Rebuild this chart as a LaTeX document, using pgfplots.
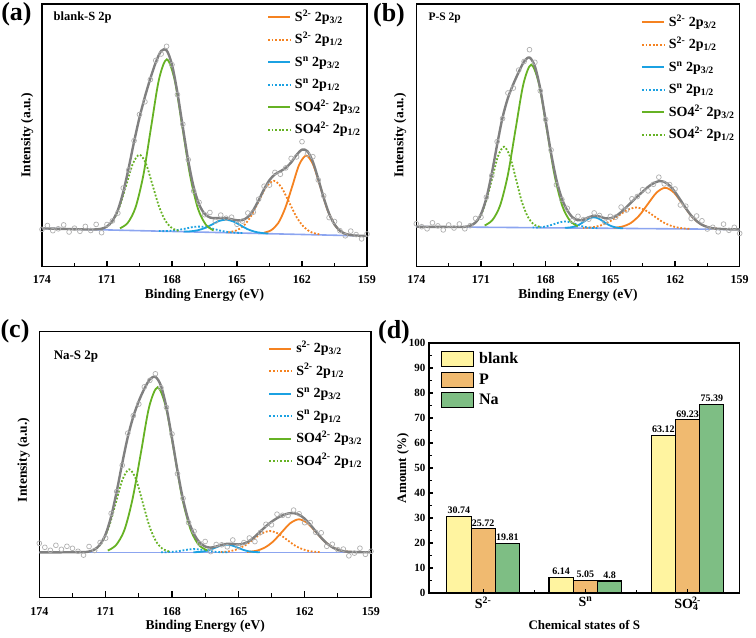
\documentclass[border=0pt]{standalone}
\usepackage{fontspec}
\setmainfont{Liberation Serif}
\usepackage{pgfplots}
\pgfplotsset{compat=1.18}

\definecolor{cOr}{RGB}{245,130,32}
\definecolor{cBl}{RGB}{27,161,226}
\definecolor{cGr}{RGB}{102,178,36}
\definecolor{cEnv}{RGB}{128,128,128}
\definecolor{cDat}{RGB}{175,175,175}
\definecolor{cBg}{RGB}{140,165,240}
\definecolor{cYel}{RGB}{255,244,160}
\definecolor{cTan}{RGB}{240,186,112}
\definecolor{cNa}{RGB}{126,190,132}

\pgfplotsset{
  comp/.style={line width=1.8pt, smooth},
  dots/.style={line width=1.8pt, smooth, dash pattern=on 1.8pt off 1.8pt},
  env/.style={cEnv, line width=2.4pt, smooth, forget plot},
  base/.style={cBg, line width=1.6pt, forget plot},
  data/.style={only marks, mark=o, mark size=2.4pt, cDat, mark options={line width=0.7pt}, forget plot},
  xps/.style={
    scale only axis,
    x dir=reverse,
    xmin=159, xmax=174, ymin=0,
    xtick={159,162,165,168,171,174},
    minor xtick={160.5,163.5,166.5,169.5,172.5},
    ytick=\empty,
    xtick pos=bottom,
    tick align=inside,
    major tick length=6pt,
    minor tick length=4pt,
    every tick/.style={black,line width=1.2pt},
    axis line style={line width=1.4pt},
    /pgf/number format/assume math mode=true,
    tick label style={font=\bfseries\fontsize{12}{12}\selectfont},
    xticklabel style={yshift=-5pt},
    xlabel={Binding Energy (eV)},
    ylabel={Intensity (a.u.)},
    label style={font=\bfseries\fontsize{13.5}{13.5}\selectfont},
    legend cell align=left,
    legend image code/.code={\draw[#1, line width=2pt] (0pt,0pt) -- (22pt,0pt); \path (25pt,0pt);},
    legend style={draw=none, fill=none, anchor=north west, inner sep=0pt,
      font=\bfseries\fontsize{14}{14}\selectfont, row sep=8pt,
      nodes={inner sep=1pt, text height=10pt, text depth=2.5pt}},
  },
}

\begin{document}
\begin{tikzpicture}[x=1pt,y=1pt]
\useasboundingbox (0,0) rectangle (756,638);

% ---------------- (a) blank-S 2p
\begin{axis}[xps, at={(42pt,371.3pt)}, anchor=south west, width=325pt, height=262.7pt, ymax=262.7,
  xlabel style={at={(axis description cs:0.5,-0.11)}, anchor=center},
  ylabel style={at={(axis description cs:-0.046,0.5)}, anchor=center},
  legend style={at={(axis description cs:0.692,0.977)}}]
\addplot[data] coordinates {(159,32.7) (159.25,27.8) (159.5,32.1) (159.75,35.6) (160,30.9) (160.25,36.0) (160.5,45.2) (160.75,49.1) (161,71.0) (161.25,86.7) (161.5,110.0) (161.75,112.5) (162,125.0) (162.25,109.8) (162.5,108.3) (162.75,98.8) (163,92.4) (163.25,94.3) (163.5,81.6) (163.75,80.5) (164,67.5) (164.25,54.5) (164.5,53.7) (164.75,45.6) (165,42.4) (165.25,49.5) (165.5,48.5) (165.75,51.6) (166,45.5) (166.25,54.2) (166.5,52.0) (166.75,64.4) (167,75.6) (167.25,107.0) (167.5,142.5) (167.75,172.1) (168,202.0) (168.25,220.4) (168.5,212.7) (168.75,206.2) (169,187.1) (169.25,164.9) (169.5,152.2) (169.75,126.0) (170,96.7) (170.25,78.7) (170.5,53.6) (170.75,45.8) (171,42.2) (171.25,34.0) (171.5,42.3) (171.75,36.2) (172,40.3) (172.25,35.4) (172.5,38.5) (172.75,34.7) (173,41.8) (173.25,37.9) (173.5,36.0) (173.75,41.2) (174,37.3)};
\addplot[base] coordinates {(159,30.7) (174,38.3)};
\addplot[cOr, comp] coordinates {(159.85,32.0) (160.18,34.8) (160.5,42.2) (160.83,57.3) (161.15,79.8) (161.48,101.7) (161.8,111.1) (162.13,102.0) (162.45,80.4) (162.78,58.3) (163.1,43.5) (163.43,36.4) (163.75,34.0)};
\addlegendentry{S\textsuperscript{2-} 2p\textsubscript{3/2}}
\addplot[cOr, dots] coordinates {(161.2,32.4) (161.55,34.3) (161.9,39.4) (162.25,49.6) (162.6,64.7) (162.95,79.4) (163.3,85.9) (163.65,79.8) (164.0,65.4) (164.35,50.6) (164.7,40.8) (165.05,36.1) (165.4,34.5)};
\addlegendentry{S\textsuperscript{2-} 2p\textsubscript{1/2}}
\addplot[cBl, comp] coordinates {(163.55,33.1) (163.88,33.8) (164.2,35.1) (164.53,37.7) (164.85,41.6) (165.18,45.3) (165.5,47.0) (165.83,45.7) (166.15,42.2) (166.48,38.7) (166.8,36.5) (167.13,35.4) (167.45,35.1)};
\addlegendentry{S\textsuperscript{n} 2p\textsubscript{3/2}}
\addplot[cBl, dots] coordinates {(164.75,33.7) (165.08,34.0) (165.4,34.6) (165.73,35.9) (166.05,37.6) (166.38,39.3) (166.7,40.1) (167.03,39.7) (167.35,38.2) (167.68,36.9) (168.0,36.0) (168.33,35.6) (168.65,35.7)};
\addlegendentry{S\textsuperscript{n} 2p\textsubscript{1/2}}
\addplot[cGr, comp] coordinates {(166.08,36.2) (166.44,42.1) (166.8,58.0) (167.16,90.6) (167.52,139.4) (167.88,187.0) (168.24,207.4) (168.6,187.4) (168.96,140.2) (169.32,91.7) (169.68,59.4) (170.04,43.9) (170.4,38.4)};
\addlegendentry{SO4\textsuperscript{2-} 2p\textsubscript{3/2}}
\addplot[cGr, dots] coordinates {(167.7,35.9) (168.0,38.6) (168.3,45.7) (168.6,60.3) (168.9,81.8) (169.2,103.0) (169.5,112.0) (169.8,103.3) (170.1,82.4) (170.4,61.2) (170.7,46.9) (171.0,40.1) (171.3,37.7)};
\addlegendentry{SO4\textsuperscript{2-} 2p\textsubscript{1/2}}
\addplot[env] coordinates {(159,30.7) (159.25,30.8) (159.5,31.1) (159.75,31.6) (160,32.9) (160.25,36.0) (160.5,42.2) (160.75,53.1) (161,69.0) (161.25,87.7) (161.5,105.0) (161.75,115.5) (162,117.0) (162.25,111.8) (162.5,104.3) (162.75,98.8) (163,95.4) (163.25,92.3) (163.5,86.6) (163.75,77.5) (164,66.5) (164.25,56.5) (164.5,49.7) (164.75,46.6) (165,46.4) (165.25,47.5) (165.5,48.5) (165.75,48.6) (166,48.5) (166.25,49.2) (166.5,53.0) (166.75,62.4) (167,79.6) (167.25,106.0) (167.5,139.5) (167.75,174.1) (168,202.0) (168.25,216.4) (168.5,215.7) (168.75,204.2) (169,188.1) (169.25,169.9) (169.5,149.2) (169.75,125.0) (170,98.7) (170.25,74.7) (170.5,56.6) (170.75,45.8) (171,40.2) (171.25,38.0) (171.5,37.3) (171.75,37.2) (172,37.3) (173,37.8) (174,38.3)};
\node[anchor=west, font=\bfseries\fontsize{12.5}{12.5}\selectfont] at (rel axis cs:0.025,0.947) {blank-S 2p};
\end{axis}

% ---------------- (b) P-S 2p
\begin{axis}[xps, at={(416.3pt,371.3pt)}, anchor=south west, width=323.4pt, height=262.7pt, ymax=262.7,
  xlabel style={at={(axis description cs:0.5,-0.11)}, anchor=center},
  ylabel style={at={(axis description cs:-0.05,0.5)}, anchor=center},
  legend style={at={(axis description cs:0.694,0.958)}}]
\addplot[data] coordinates {(159,33.3) (159.25,39.4) (159.5,36.4) (159.75,42.6) (160,34.9) (160.25,39.4) (160.5,37.7) (160.75,45.9) (161,50.7) (161.25,48.2) (161.5,60.5) (161.75,61.7) (162,77.7) (162.25,82.1) (162.5,82.8) (162.75,89.5) (163,82.4) (163.25,75.8) (163.5,77.0) (163.75,70.2) (164,67.9) (164.25,56.7) (164.5,59.6) (164.75,49.6) (165,50.4) (165.25,44.5) (165.5,51.2) (165.75,53.8) (166,47.5) (166.25,47.0) (166.5,50.4) (166.75,46.3) (167,58.4) (167.25,67.2) (167.5,81.9) (167.75,116.7) (168,147.2) (168.25,175.9) (168.5,204.4) (168.75,217.0) (169,205.2) (169.25,196.6) (169.5,178.6) (169.75,173.7) (170,148.1) (170.25,125.1) (170.5,91.1) (170.75,69.5) (171,49.5) (171.25,48.3) (171.5,41.0) (171.75,37.9) (172,42.7) (172.25,38.7) (172.5,41.7) (172.75,36.8) (173,40.8) (173.25,43.9) (173.5,37.9) (173.75,40.0) (174,43.0)};
\addplot[base] coordinates {(159,37.3) (174,40.0)};
\addplot[cOr, comp] coordinates {(160.05,38.0) (160.45,39.4) (160.85,43.1) (161.25,51.0) (161.65,62.7) (162.05,74.1) (162.45,78.9) (162.85,74.2) (163.25,63.0) (163.65,51.4) (164.05,43.7) (164.45,40.1) (164.85,38.9)};
\addlegendentry{S\textsuperscript{2-} 2p\textsubscript{3/2}}
\addplot[cOr, dots] coordinates {(161.34,37.9) (161.75,38.7) (162.16,40.7) (162.57,44.7) (162.98,50.7) (163.39,56.6) (163.8,59.2) (164.21,56.7) (164.62,51.0) (165.03,45.2) (165.44,41.3) (165.85,39.4) (166.26,38.8)};
\addlegendentry{S\textsuperscript{2-} 2p\textsubscript{1/2}}
\addplot[cBl, comp] coordinates {(164.41,38.4) (164.64,38.8) (164.86,39.9) (165.09,41.9) (165.31,45.0) (165.54,48.1) (165.76,49.4) (165.99,48.2) (166.21,45.2) (166.44,42.1) (166.66,40.2) (166.89,39.2) (167.11,38.9)};
\addlegendentry{S\textsuperscript{n} 2p\textsubscript{3/2}}
\addplot[cBl, dots] coordinates {(165.6,38.6) (165.85,38.8) (166.1,39.5) (166.35,40.7) (166.6,42.6) (166.85,44.3) (167.1,45.2) (167.35,44.4) (167.6,42.7) (167.85,41.0) (168.1,39.8) (168.35,39.3) (168.6,39.1)};
\addlegendentry{S\textsuperscript{n} 2p\textsubscript{1/2}}
\addplot[cGr, comp] coordinates {(166.51,40.5) (166.87,45.9) (167.23,60.9) (167.59,91.8) (167.95,137.8) (168.31,182.8) (168.67,202.0) (169.03,182.9) (169.39,138.1) (169.75,92.1) (170.11,61.4) (170.47,46.6) (170.83,41.2)};
\addlegendentry{SO4\textsuperscript{2-} 2p\textsubscript{3/2}}
\addplot[cGr, dots] coordinates {(168.28,39.9) (168.56,42.5) (168.83,50.0) (169.11,65.3) (169.38,88.1) (169.66,110.4) (169.93,120.0) (170.21,110.5) (170.48,88.3) (170.76,65.6) (171.03,50.4) (171.31,43.0) (171.58,40.5)};
\addlegendentry{SO4\textsuperscript{2-} 2p\textsubscript{1/2}}
\addplot[env] coordinates {(159,37.3) (159.5,37.4) (160,37.9) (160.25,38.4) (160.5,39.7) (160.75,41.9) (161,45.7) (161.25,51.2) (161.5,58.5) (161.75,66.7) (162,74.7) (162.25,81.1) (162.5,84.8) (162.75,85.5) (163,83.4) (163.25,79.8) (163.5,75.0) (163.75,70.2) (164,64.9) (164.25,59.7) (164.5,54.6) (164.75,50.6) (165,48.4) (165.25,48.5) (165.5,50.2) (165.75,50.8) (166,49.5) (166.25,47.0) (166.5,46.4) (166.75,49.3) (167,56.4) (167.25,68.2) (167.5,86.9) (167.75,113.7) (168,146.2) (168.25,177.9) (168.5,200.4) (168.75,209.2) (169,205.2) (169.25,194.6) (169.5,182.6) (169.75,168.7) (170,149.1) (170.25,122.1) (170.5,93.1) (170.75,68.5) (171,52.5) (171.25,44.3) (171.5,41.0) (171.75,39.9) (172,39.7) (173,39.8) (174,40.0)};
\node[anchor=west, font=\bfseries\fontsize{11.5}{11.5}\selectfont] at (rel axis cs:0.027,0.947) {P-S 2p};
\end{axis}

% ---------------- (c) Na-S 2p
\begin{axis}[xps, at={(39.3pt,40.7pt)}, anchor=south west, width=331.7pt, height=265.7pt, ymax=265.7,
  xlabel style={at={(axis description cs:0.5,-0.11)}, anchor=center},
  ylabel style={at={(axis description cs:-0.047,0.517)}, anchor=center},
  xticklabel style={yshift=-1.5pt},
  legend style={at={(axis description cs:0.69,0.963)}}]
\addplot[data] coordinates {(159,46) (159.25,43) (159.5,49.1) (159.75,44.2) (160,41.5) (160.25,48.2) (160.5,47.6) (160.75,53.1) (161,51.0) (161.25,64.5) (161.5,65.0) (161.75,74.7) (162,74.6) (162.25,83.5) (162.5,87.2) (162.75,81.8) (163,82.0) (163.25,83.1) (163.5,72.5) (163.75,73.0) (164,64.9) (164.25,55.7) (164.5,59.3) (164.75,54.7) (165,50.9) (165.25,57.3) (165.5,50.5) (165.75,52.5) (166,52.8) (166.25,45.7) (166.5,55.8) (166.75,53.9) (167,66.0) (167.25,74.7) (167.5,98.9) (167.75,123.5) (168,163.3) (168.25,189.9) (168.5,209.6) (168.75,223.5) (169,217.0) (169.25,210.5) (169.5,193.2) (169.75,181.6) (170,164.1) (170.25,132.0) (170.5,105.8) (170.75,83.9) (171,59.1) (171.25,54.8) (171.5,46.8) (171.75,50.8) (172,42.2) (172.25,46) (172.5,49) (172.75,51) (173,48) (173.25,52) (173.5,47) (173.75,50) (174,54)};
\addplot[base] coordinates {(159,45) (174,45)};
\addplot[cOr, comp] coordinates {(159.92,45.4) (160.31,46.4) (160.7,49.5) (161.09,55.7) (161.48,65.0) (161.87,74.1) (162.26,78.0) (162.65,74.1) (163.04,65.0) (163.43,55.7) (163.82,49.5) (164.21,46.4) (164.6,45.4)};
\addlegendentry{s\textsuperscript{2-} 2p\textsubscript{3/2}}
\addplot[cOr, dots] coordinates {(161.32,45.2) (161.7,45.9) (162.07,47.9) (162.45,51.9) (162.82,57.9) (163.2,63.8) (163.57,66.3) (163.95,63.8) (164.32,57.9) (164.7,51.9) (165.07,47.9) (165.45,45.9) (165.82,45.2)};
\addlegendentry{S\textsuperscript{2-} 2p\textsubscript{1/2}}
\addplot[cBl, comp] coordinates {(164.03,45.1) (164.28,45.3) (164.53,46.0) (164.78,47.5) (165.03,49.7) (165.28,51.8) (165.53,52.7) (165.78,51.8) (166.03,49.7) (166.28,47.5) (166.53,46.0) (166.78,45.3) (167.03,45.1)};
\addlegendentry{S\textsuperscript{n} 2p\textsubscript{3/2}}
\addplot[cBl, dots] coordinates {(165.5,45.0) (165.75,45.1) (166.0,45.4) (166.25,46.0) (166.5,46.9) (166.75,47.8) (167.0,48.2) (167.25,47.8) (167.5,46.9) (167.75,46.0) (168.0,45.4) (168.25,45.1) (168.5,45.0)};
\addlegendentry{S\textsuperscript{n} 2p\textsubscript{1/2}}
\addplot[cGr, comp] coordinates {(166.4,46.8) (166.78,52.2) (167.15,67.3) (167.53,98.6) (167.9,145.1) (168.28,190.6) (168.65,210.0) (169.03,190.6) (169.4,145.1) (169.78,98.6) (170.15,67.3) (170.53,52.2) (170.9,46.8)};
\addlegendentry{SO4\textsuperscript{2-} 2p\textsubscript{3/2}}
\addplot[cGr, dots] coordinates {(168.13,45.9) (168.43,48.6) (168.73,56.2) (169.03,71.9) (169.33,95.3) (169.63,118.2) (169.93,128.0) (170.23,118.2) (170.53,95.3) (170.83,71.9) (171.13,56.2) (171.43,48.6) (171.73,45.9)};
\addlegendentry{SO4\textsuperscript{2-} 2p\textsubscript{1/2}}
\addplot[env] coordinates {(159,45.0) (159.5,45.1) (160,45.5) (160.25,46.2) (160.5,47.6) (160.75,50.1) (161,54.0) (161.25,59.5) (161.5,66.0) (161.75,72.7) (162,78.6) (162.25,82.5) (162.5,84.2) (162.75,83.8) (163,82.0) (163.25,79.1) (163.5,75.5) (163.75,71.0) (164,65.9) (164.25,60.7) (164.5,56.3) (164.75,53.7) (165,52.9) (165.25,53.3) (165.5,53.5) (165.75,52.5) (166,50.8) (166.25,49.7) (166.5,50.8) (166.75,54.9) (167,63.0) (167.25,76.7) (167.5,97.9) (167.75,126.5) (168,159.3) (168.25,189.9) (168.5,211.6) (168.75,220.5) (169,218.0) (169.25,208.5) (169.5,196.2) (169.75,180.6) (170,160.1) (170.25,134.0) (170.5,105.8) (170.75,80.9) (171,63.1) (171.25,52.8) (171.5,47.8) (171.75,45.8) (172,45.2) (173,45.0) (174,45.0)};
\node[anchor=west, font=\bfseries\fontsize{13}{13}\selectfont] at (rel axis cs:0.033,0.906) {Na-S 2p};
\end{axis}

% ---------------- (d) amounts
\begin{axis}[at={(429pt,45pt)}, anchor=south west, scale only axis, width=310.7pt, height=250pt,
  ybar=0pt, bar width=0.237,
  xmin=-0.53, xmax=2.51, ymin=0, ymax=100,
  xtick={0,1,2},
  xticklabels={{S\textsuperscript{2-}},{S\textsuperscript{n}},{SO\textsubscript{4}\kern-0.45em\textsuperscript{2-}}},
  minor xtick={0.5,1.5},
  ytick={0,10,...,100}, minor ytick={5,15,...,95},
  tick align=inside, xtick pos=bottom, ytick pos=left,
  major tick length=4pt, minor tick length=2.5pt,
  every tick/.style={black,line width=1.2pt},
  axis line style={line width=1.4pt},
  axis on top,
  /pgf/number format/assume math mode=true,
  yticklabel style={font=\bfseries\fontsize{11}{11}\selectfont},
  xticklabel style={font=\bfseries\fontsize{14}{14}\selectfont},
  xlabel={Chemical states of S},
  ylabel={Amount (\%)},
  label style={font=\bfseries\fontsize{13}{13}\selectfont},
  xlabel style={at={(axis description cs:0.5,-0.128)}, anchor=center},
  ylabel style={at={(axis description cs:-0.084,0.5)}, anchor=center},
  nodes near coords, point meta=explicit symbolic,
  every node near coord/.append style={font=\bfseries\fontsize{10}{10}\selectfont, black, inner sep=2pt},
  legend image code/.code={\draw[#1] (0pt,-7pt) rectangle (32pt,8pt); \path (37pt,0pt);},
  legend cell align=left,
  legend style={at={(axis description cs:0.038,0.969)}, anchor=north west, draw=none, fill=none,
    inner sep=0pt, row sep=4.5pt, font=\bfseries\fontsize{16}{16}\selectfont,
    nodes={inner sep=0pt, text height=11pt, text depth=3pt}},
]
\addplot[fill=cYel, draw=black, line width=1.1pt] coordinates {(0,30.74) [30.74] (1,6.14) [6.14] (2,63.12) [63.12]};
\addlegendentry{blank}
\addplot[fill=cTan, draw=black, line width=1.1pt] coordinates {(0,25.72) [25.72] (1,5.05) [5.05] (2,69.23) [69.23]};
\addlegendentry{P}
\addplot[fill=cNa, draw=black, line width=1.1pt] coordinates {(0,19.81) [19.81] (1,4.8) [4.8] (2,75.39) [75.39]};
\addlegendentry{Na}
\end{axis}

\node[font=\bfseries\fontsize{26}{26}\selectfont] at (16.5,624) {(a)};
\node[font=\bfseries\fontsize{26}{26}\selectfont] at (389,623) {(b)};
\node[font=\bfseries\fontsize{26}{26}\selectfont] at (15,307) {(c)};
\node[font=\bfseries\fontsize{26}{26}\selectfont] at (394,306) {(d)};
\end{tikzpicture}
\end{document}
